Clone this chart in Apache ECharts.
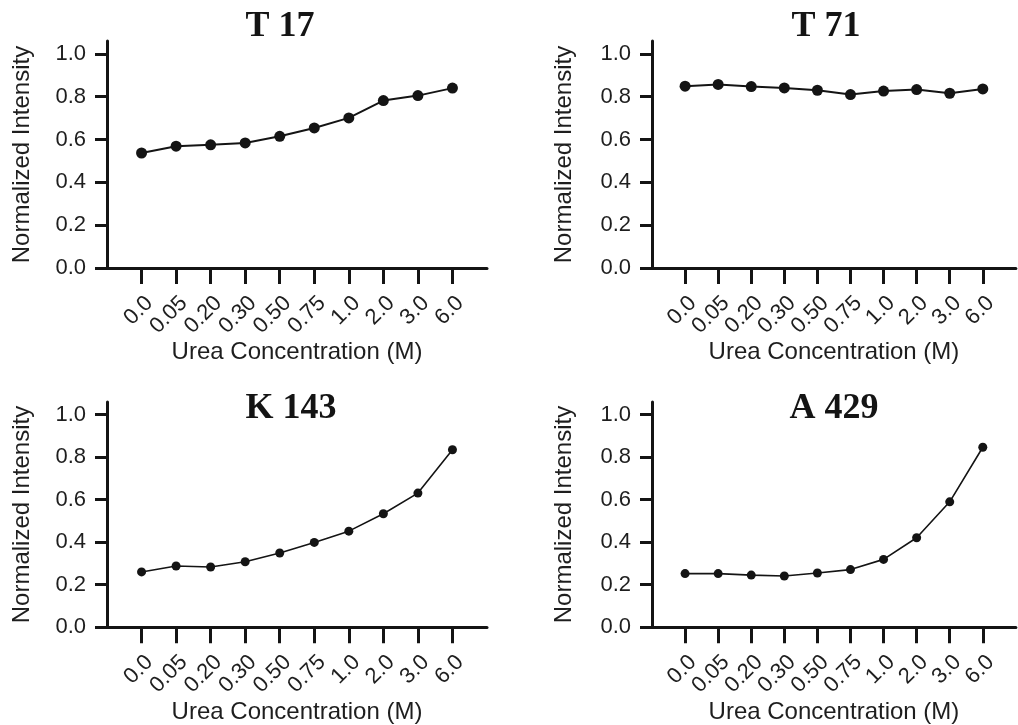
<!DOCTYPE html>
<html>
<head>
<meta charset="utf-8">
<title>Normalized Intensity vs Urea Concentration</title>
<script src="https://cdn.jsdelivr.net/npm/echarts@6/dist/echarts.min.js"></script>
<style>
  html, body { margin: 0; padding: 0; background: #ffffff; }
  #chart { width: 1018px; height: 725px; }
</style>
</head>
<body>
<div id="chart"></div>
<script>
// Urea concentrations (M) on the shared category axis
const concentrations = ['0.0', '0.05', '0.20', '0.30', '0.50', '0.75', '1.0', '2.0', '3.0', '6.0'];

// Normalized intensity per residue
const t17  = [0.537, 0.569, 0.575, 0.584, 0.615, 0.654, 0.701, 0.782, 0.805, 0.840];
const t71  = [0.849, 0.857, 0.847, 0.841, 0.830, 0.810, 0.826, 0.833, 0.816, 0.836];
const k143 = [0.260, 0.288, 0.283, 0.308, 0.349, 0.399, 0.452, 0.534, 0.631, 0.835];
const a429 = [0.252, 0.252, 0.245, 0.241, 0.255, 0.271, 0.319, 0.421, 0.590, 0.847];

const panelTitles = ['T 17', 'T 71', 'K 143', 'A 429'];
const yTicks = [0.0, 0.2, 0.4, 0.6, 0.8, 1.0];
const xAxisTitle = 'Urea Concentration (M)';
const yAxisTitle = 'Normalized Intensity';

const ink = '#141414';
const textInk = '#1e1e1e';
const sans = '"Liberation Sans", Arial, Helvetica, sans-serif';
const serif = '"Liberation Serif", "Times New Roman", serif';

// One empty slot on each side keeps the first and last points off the axis ends
const paddedCats = [''].concat(concentrations, ['']);
const pad = arr => [null].concat(arr, [null]);

const panels = [
  { values: t17,  grid: { left: 107, right: 531, top: 41,  height: 227 }, title: [280, 27],  xGap: 70, yGap: 73, size: 11, width: 2 },
  { values: t71,  grid: { left: 652, right: -7,  top: 41,  height: 227 }, title: [826, 27],  xGap: 70, yGap: 76, size: 11, width: 2 },
  { values: k143, grid: { left: 107, right: 531, top: 402, height: 227 }, title: [291, 409], xGap: 66, yGap: 73, size: 9,  width: 1.6 },
  { values: a429, grid: { left: 652, right: -7,  top: 402, height: 227 }, title: [834, 409], xGap: 66, yGap: 76, size: 9,  width: 1.6 }
];

const option = {
  animation: false,
  backgroundColor: '#ffffff',
  grid: panels.map(p => Object.assign({ containLabel: false }, p.grid)),
  xAxis: panels.map((p, i) => ({
    type: 'category',
    gridIndex: i,
    data: paddedCats,
    boundaryGap: false,
    name: xAxisTitle,
    nameLocation: 'middle',
    nameGap: p.xGap,
    nameTextStyle: { fontFamily: sans, fontSize: 24, color: textInk },
    axisLine: { show: true, lineStyle: { color: ink, width: 3 } },
    axisTick: {
      show: true,
      length: 16,
      lineStyle: { color: ink, width: 3 },
      interval: (idx, val) => val !== ''
    },
    axisLabel: {
      interval: 0,
      rotate: 45,
      margin: 24,
      align: 'right',
      verticalAlign: 'top',
      fontFamily: sans,
      fontSize: 22,
      color: textInk
    },
    splitLine: { show: false }
  })),
  yAxis: panels.map((p, i) => ({
    type: 'value',
    gridIndex: i,
    min: 0,
    max: 1.06,
    interval: 0.2,
    name: yAxisTitle,
    nameLocation: 'middle',
    nameGap: p.yGap,
    nameTextStyle: { fontFamily: sans, fontSize: 24, color: textInk },
    axisLine: { show: true, lineStyle: { color: ink, width: 3 } },
    axisTick: {
      show: true,
      length: 12,
      customValues: yTicks,
      lineStyle: { color: ink, width: 3 }
    },
    axisLabel: {
      customValues: yTicks,
      margin: 21,
      fontFamily: sans,
      fontSize: 22,
      color: textInk,
      formatter: v => v.toFixed(1)
    },
    splitLine: { show: false }
  })),
  series: panels.map((p, i) => ({
    type: 'line',
    name: panelTitles[i],
    xAxisIndex: i,
    yAxisIndex: i,
    data: pad(p.values),
    symbol: 'circle',
    symbolSize: p.size,
    showSymbol: true,
    itemStyle: { color: ink },
    lineStyle: { color: ink, width: p.width },
    emphasis: { disabled: true }
  })),
  graphic: panels.map((p, i) => ({
    type: 'text',
    x: p.title[0],
    y: p.title[1],
    style: {
      text: panelTitles[i],
      font: 'bold 36px ' + serif,
      fill: ink,
      textAlign: 'center',
      textVerticalAlign: 'middle'
    }
  }))
};

const chart = echarts.init(document.getElementById('chart'), null, { renderer: 'canvas' });
chart.setOption(option);
</script>
</body>
</html>
